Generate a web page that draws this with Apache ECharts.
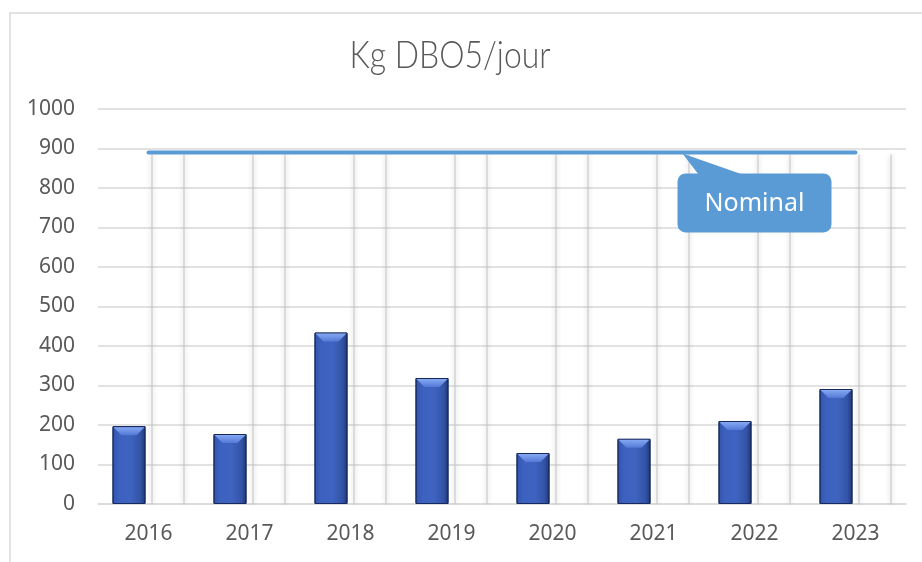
<!DOCTYPE html>
<html>
<head>
<meta charset="utf-8">
<script src="https://cdn.jsdelivr.net/npm/echarts@6/dist/echarts.min.js"></script>
<style>
  html, body { margin: 0; padding: 0; background: #ffffff; }
  #chart { width: 922px; height: 562px; }
</style>
</head>
<body>
<div id="chart"></div>
<script>
// Annual BOD5 load (kg/day) against the plant's nominal capacity
const years = ['2016', '2017', '2018', '2019', '2020', '2021', '2022', '2023'];
const charge = [197, 177, 434, 319, 129, 165, 210, 291];
const nominal = [890, 890, 890, 890, 890, 890, 890, 890];
const yTicks = { min: 0, max: 1000, interval: 100 };
const titleText = 'Kg DBO5/jour';
const nominalLabel = 'Nominal';
const labelIndex = 6;

const chart = echarts.init(document.getElementById('chart'), null, { renderer: 'canvas' });

const textColor = '#595959';
const gridColor = '#d9d9d9';
const lineBlue = '#5b9bd5';
const font = '"Noto Sans", "Liberation Sans", sans-serif';

// Bar geometry inside each category band (two slots: load bar, capacity slot)
const BAR_W = 33;
const BAR_GAP = 6;
const slotLeft = (cx) => cx - BAR_GAP / 2 - BAR_W;   // load bar left edge
const slotRight = (cx) => cx + BAR_GAP / 2;          // capacity slot left edge

// Condensed light title: measure and squeeze horizontally
const titleFont = '300 37px Lato, Roboto, sans-serif';
const titleWidth = 201;
const measureCtx = document.createElement('canvas').getContext('2d');
measureCtx.font = titleFont;
const titleScale = titleWidth / measureCtx.measureText(titleText).width;

const option = {
  animation: false,
  backgroundColor: '#ffffff',
  grid: { left: 98, right: 16, top: 109, bottom: 58, containLabel: false },
  xAxis: {
    type: 'category',
    data: years,
    axisLine: { show: true, lineStyle: { color: gridColor, width: 1.5 } },
    axisTick: { show: false },
    axisLabel: { color: textColor, fontFamily: font, fontSize: 21, margin: 20 },
    splitLine: { show: false }
  },
  yAxis: {
    type: 'value',
    min: yTicks.min,
    max: yTicks.max,
    interval: yTicks.interval,
    axisLine: { show: false },
    axisTick: { show: false },
    axisLabel: { color: textColor, fontFamily: font, fontSize: 21, margin: 23, formatter: (v) => String(v) },
    splitLine: { lineStyle: { color: gridColor, width: 1.5 } }
  },
  graphic: [
    {
      type: 'rect',
      silent: true,
      z: -10,
      shape: { x: 10, y: 13, width: 940, height: 600 },
      style: { fill: 'none', stroke: gridColor, lineWidth: 1.5 }
    },
    {
      type: 'text',
      silent: true,
      x: 450,
      y: 56,
      scaleX: titleScale,
      style: {
        text: titleText,
        font: titleFont,
        fill: textColor,
        align: 'center',
        verticalAlign: 'middle'
      }
    }
  ],
  series: [
    {
      name: 'Charge',
      type: 'bar',
      data: charge,
      barWidth: BAR_W,
      barGap: (BAR_GAP / BAR_W * 100) + '%',
      z: 3,
      itemStyle: {
        borderColor: '#172a5e',
        borderWidth: 1,
        color: new echarts.graphic.LinearGradient(0, 0, 1, 0, [
          { offset: 0, color: '#3354ad' },
          { offset: 0.2, color: '#3d61bf' },
          { offset: 0.55, color: '#3f63c0' },
          { offset: 0.85, color: '#3253a6' },
          { offset: 1, color: '#1f3675' }
        ])
      }
    },
    {
      // capacity slot: keeps the second position in each band
      name: 'Capacité',
      type: 'bar',
      data: nominal,
      barWidth: BAR_W,
      z: 1,
      itemStyle: { color: 'rgba(255,255,255,0)' }
    },
    {
      // bevelled top face of each load bar
      name: 'Charge-top',
      type: 'custom',
      z: 4,
      silent: true,
      data: charge.map((v, i) => [i, v]),
      renderItem: (params, api) => {
        const top = api.coord([api.value(0), api.value(1)]);
        const x0 = slotLeft(top[0]) + 1;
        const x1 = x0 + BAR_W - 2;
        const y = top[1] + 1;
        const d = 8;
        return {
          type: 'polygon',
          shape: { points: [[x0, y], [x1, y], [x1 - d, y + d], [x0 + d, y + d]] },
          style: {
            fill: new echarts.graphic.LinearGradient(0, 0, 0, 1, [
              { offset: 0, color: '#86a8f2' },
              { offset: 1, color: '#5279d6' }
            ])
          }
        };
      }
    },
    {
      // shadowed edges of the capacity slot
      name: 'Capacité-bords',
      type: 'custom',
      z: 1,
      silent: true,
      data: nominal.map((v, i) => [i, v]),
      renderItem: (params, api) => {
        const top = api.coord([api.value(0), api.value(1)]);
        const base = api.coord([api.value(0), 0]);
        const xa = slotRight(top[0]) + 0.5;
        const xb = xa + BAR_W - 1;
        const edgeStyle = {
          stroke: 'rgba(200,200,200,0.75)',
          lineWidth: 1.5,
          shadowBlur: 5,
          shadowColor: 'rgba(0,0,0,0.28)'
        };
        return {
          type: 'group',
          children: [
            { type: 'line', shape: { x1: xa, y1: top[1] + 2, x2: xa, y2: base[1] }, style: edgeStyle },
            { type: 'line', shape: { x1: xb, y1: top[1] + 2, x2: xb, y2: base[1] }, style: edgeStyle }
          ]
        };
      }
    },
    {
      name: nominalLabel,
      type: 'line',
      data: nominal,
      symbol: 'none',
      z: 5,
      lineStyle: { color: lineBlue, width: 4, cap: 'round' },
      markPoint: {
        silent: true,
        symbol: 'circle',
        symbolSize: 2,
        itemStyle: { color: lineBlue },
        data: [{
          coord: [labelIndex, nominal[labelIndex]],
          label: {
            show: true,
            position: 'bottom',
            distance: 20,
            formatter: nominalLabel,
            backgroundColor: lineBlue,
            borderRadius: 8,
            width: 154,
            height: 27,
            lineHeight: 29,
            padding: [16, 0],
            align: 'center',
            color: '#ffffff',
            fontFamily: font,
            fontSize: 25
          }
        }]
      }
    }
  ]
};

chart.setOption(option);

// Callout pointer from the nominal line down to its label box
const anchor = chart.convertToPixel({ gridIndex: 0 }, [labelIndex, nominal[labelIndex]]);
chart.setOption({
  graphic: [
    option.graphic[0],
    option.graphic[1],
    {
      type: 'polygon',
      silent: true,
      z: 100,
      shape: {
        points: [
          [anchor[0] - 72, anchor[1] + 1],
          [anchor[0] - 56, anchor[1] + 22],
          [anchor[0] - 12, anchor[1] + 22]
        ]
      },
      style: { fill: lineBlue }
    }
  ]
});
</script>
</body>
</html>
